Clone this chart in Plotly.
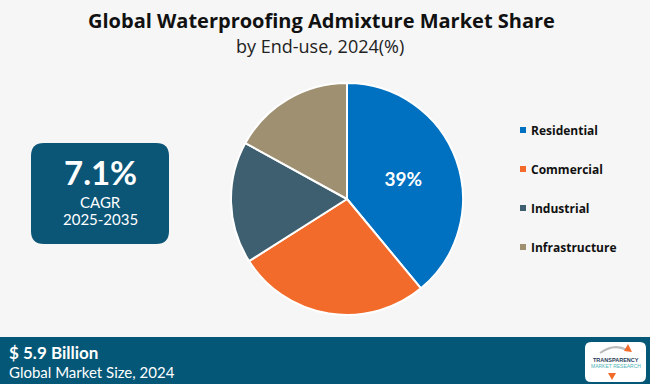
import plotly.graph_objects as go

categories = ["Residential", "Commercial", "Industrial", "Infrastructure"]
shares = [39, 27, 17, 17]
slice_labels = ["39%", "", "", ""]
colors = ["#0070C0", "#F26B2A", "#3D5F6F", "#A09072"]

W, H = 650, 384
def px(x): return x / W
def py(y): return 1 - y / H

fig = go.Figure()
fig.add_trace(go.Pie(
    labels=categories, values=shares, text=slice_labels,
    textinfo="text", textposition="inside", insidetextorientation="horizontal",
    textfont=dict(family="Lato", size=19, color="white", weight="bold"),
    marker=dict(colors=colors, line=dict(color="white", width=2)),
    sort=False, direction="clockwise", rotation=0,
    domain=dict(x=[px(231), px(463)], y=[py(315), py(83)]),
    showlegend=False, hoverinfo="label+percent",
))

shapes = []
annotations = []

def ann(text, x, y, size, color="white", family="Lato", xanchor="center"):
    annotations.append(dict(text=text, x=px(x), y=py(y), xref="paper", yref="paper",
                            xanchor=xanchor, yanchor="middle", showarrow=False, borderpad=0,
                            font=dict(family=family, size=size, color=color)))

# Title
ann("<b>Global Waterproofing Admixture Market Share</b>", 321, 20, 20, "#111111", "Open Sans")
ann("by End-use, 2024(%)", 320, 46, 18, "#222222", "Open Sans")

# Legend
leg_y = [130, 169, 208, 247]
for cat, col, yy in zip(categories, colors, leg_y):
    shapes.append(dict(type="rect", xref="paper", yref="paper",
                       x0=px(520), x1=px(526), y0=py(yy + 3), y1=py(yy - 3),
                       fillcolor=col, line=dict(width=0)))
    ann("<b>" + cat + "</b>", 530, yy, 12, "#111111", "Open Sans", "left")

# CAGR card
x0, x1, y0, y1, r = 31, 169, 143, 244, 13
path = (f"M {px(x0+r)},{py(y0)} L {px(x1-r)},{py(y0)} Q {px(x1)},{py(y0)} {px(x1)},{py(y0+r)} "
        f"L {px(x1)},{py(y1-r)} Q {px(x1)},{py(y1)} {px(x1-r)},{py(y1)} "
        f"L {px(x0+r)},{py(y1)} Q {px(x0)},{py(y1)} {px(x0)},{py(y1-r)} "
        f"L {px(x0)},{py(y0+r)} Q {px(x0)},{py(y0)} {px(x0+r)},{py(y0)} Z")
shapes.append(dict(type="path", path=path, xref="paper", yref="paper",
                   fillcolor="#0B5577", line=dict(width=0)))
ann("<b>7.1%</b>", 100, 172, 33)
ann("CAGR", 100, 202, 15)
ann("2025-2035", 100, 219, 15)

# Bottom bar
shapes.append(dict(type="rect", xref="paper", yref="paper", x0=0, x1=1, y0=0, y1=py(337),
                   fillcolor="#045777", line=dict(width=0)))
ann("<b>$ 5.9 Billion</b>", 8, 352, 17, xanchor="left")
ann("Global Market Size, 2024", 8, 372, 15, xanchor="left")

# Logo
lx0, lx1, ly0, ly1, lr = 585, 646, 342, 382, 6
lpath = (f"M {px(lx0+lr)},{py(ly0)} L {px(lx1-lr)},{py(ly0)} Q {px(lx1)},{py(ly0)} {px(lx1)},{py(ly0+lr)} "
         f"L {px(lx1)},{py(ly1-lr)} Q {px(lx1)},{py(ly1)} {px(lx1-lr)},{py(ly1)} "
         f"L {px(lx0+lr)},{py(ly1)} Q {px(lx0)},{py(ly1)} {px(lx0)},{py(ly1-lr)} "
         f"L {px(lx0)},{py(ly0+lr)} Q {px(lx0)},{py(ly0)} {px(lx0+lr)},{py(ly0)} Z")
shapes.append(dict(type="path", path=lpath, xref="paper", yref="paper",
                   fillcolor="white", line=dict(width=0)))
shapes.append(dict(type="path", xref="paper", yref="paper",
                   path=f"M {px(600)},{py(353)} Q {px(614)},{py(343)} {px(627)},{py(350)}",
                   line=dict(color="#BBBBBB", width=2)))
shapes.append(dict(type="path", xref="paper", yref="paper",
                   path=f"M {px(628)},{py(344)} L {px(632)},{py(352)} L {px(624)},{py(351)} Z",
                   fillcolor="#F26B2A", line=dict(width=0)))
shapes.append(dict(type="path", xref="paper", yref="paper",
                   path=f"M {px(612)},{py(380)} L {px(616)},{py(373)} L {px(608)},{py(373)} Z",
                   fillcolor="#F26B2A", line=dict(width=0)))
ann("<b>TRANSPARENCY</b>", 615.5, 360, 5.5, "#1F3A5A", "Liberation Sans")
ann("MARKET RESEARCH", 615.5, 366, 5, "#4FB3B8", "Liberation Sans")

fig.update_layout(
    width=W, height=H, margin=dict(l=0, r=0, t=0, b=0),
    paper_bgcolor="#F6F6F6", plot_bgcolor="#F6F6F6",
    shapes=shapes, annotations=annotations, showlegend=False,
)

fig.write_html("out.html", config={"displayModeBar": False},
               post_script="document.body.style.margin='0';document.body.style.overflow='hidden';")
